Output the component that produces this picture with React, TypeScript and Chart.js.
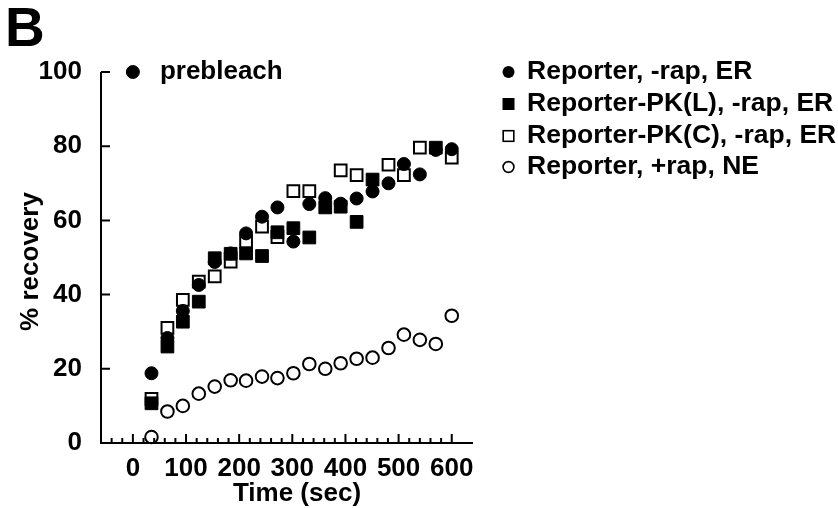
import React, { useEffect, useRef } from "react";
import { Chart, registerables } from "chart.js";

Chart.register(...registerables);

// ---- data ----
const TIMES = [35, 65, 94, 124, 154, 184, 213, 243, 272, 302, 332, 362, 391, 421, 451, 481, 510, 540, 570, 600];

const REPORTER_ER = [18.8, 28.3, 35.6, 42.6, 48.8, 51.1, 56.5, 61.0, 63.5, 54.3, 64.4, 66.0, 64.5, 65.9, 67.8, 70.0, 75.2, 72.4, 79.0, 79.2];
const PKL_ER = [10.7, 26.0, 32.7, 38.1, 49.8, 51.0, 51.1, 50.4, 56.8, 57.9, 55.4, 63.5, 63.7, 59.6, 71.0, null, null, null, 79.6, null];
const PKC_ER = [11.9, 31.0, 38.6, 43.5, 44.9, 48.9, 54.3, 58.3, 55.5, 67.9, 67.9, null, 73.5, 72.2, null, 75.0, 72.2, 79.6, null, 76.9];
const REPORTER_NE = [1.6, 8.5, 10.0, 13.3, 15.2, 16.9, 16.8, 17.9, 17.5, 18.8, 21.3, 20.0, 21.5, 22.7, 23.0, 25.6, 29.2, 27.8, 26.7, 34.3];

const PREBLEACH_TIME = [0];
const PREBLEACH_VALUE = [100];

const LEGEND_LABELS = [
  "Reporter, -rap, ER",
  "Reporter-PK(L), -rap, ER",
  "Reporter-PK(C), -rap, ER",
  "Reporter, +rap, NE",
];

const X_MIN = -60;
const X_MAX = 640;
const X_LABEL_TICKS = [0, 100, 200, 300, 400, 500, 600];
const X_MINOR_STEP = 20;
const Y_TICKS = [0, 20, 40, 60, 80, 100];

const FONT = "'Liberation Sans', Arial, Helvetica, sans-serif";

const toPoints = (xs: number[], ys: (number | null)[]) =>
  xs
    .map((x, i) => ({ x, y: ys[i] }))
    .filter((p) => p.y !== null) as { x: number; y: number }[];

const decorPlugin = {
  id: "decor",
  beforeDatasetsDraw(chart: any) {
    const { ctx } = chart;
    const xs = chart.scales.x;
    const ys = chart.scales.y;
    const left = xs.getPixelForValue(X_MIN);
    const right = xs.getPixelForValue(X_MAX);
    const bottom = ys.getPixelForValue(0);
    const top = ys.getPixelForValue(100);
    ctx.save();
    ctx.strokeStyle = "#000";
    ctx.lineWidth = 2;
    ctx.lineCap = "butt";
    ctx.lineJoin = "miter";
    ctx.beginPath();
    ctx.moveTo(left, top);
    ctx.lineTo(left, bottom);
    ctx.lineTo(right, bottom);
    ctx.stroke();
    // y ticks (inward)
    ctx.beginPath();
    Y_TICKS.forEach((v) => {
      if (v === 0) return;
      const y = ys.getPixelForValue(v);
      ctx.moveTo(left, y);
      ctx.lineTo(left + 9, y);
    });
    ctx.stroke();
    // x ticks (inward), minor every 20
    ctx.beginPath();
    for (let v = X_MIN + X_MINOR_STEP; v <= 600; v += X_MINOR_STEP) {
      const x = xs.getPixelForValue(v);
      const len = v % 100 === 0 ? 9 : 5;
      ctx.moveTo(x, bottom);
      ctx.lineTo(x, bottom - len);
    }
    ctx.stroke();
    ctx.restore();
  },
  afterDraw(chart: any) {
    const { ctx } = chart;
    const xs = chart.scales.x;
    const ys = chart.scales.y;
    ctx.save();
    ctx.fillStyle = "#000";
    // panel letter
    ctx.font = `bold 55px ${FONT}`;
    ctx.textAlign = "left";
    ctx.textBaseline = "alphabetic";
    ctx.fillText("B", 5, 46);
    // prebleach label
    ctx.font = `bold 26px ${FONT}`;
    ctx.textBaseline = "middle";
    ctx.fillText("prebleach", xs.getPixelForValue(PREBLEACH_TIME[0]) + 27, ys.getPixelForValue(PREBLEACH_VALUE[0]));
    // axis titles
    ctx.textAlign = "center";
    ctx.fillText("Time (sec)", (chart.chartArea.left + chart.chartArea.right) / 2 + 10, 494);
    ctx.save();
    ctx.translate(31, (chart.chartArea.top + chart.chartArea.bottom) / 2 + 4);
    ctx.rotate(-Math.PI / 2);
    ctx.fillText("% recovery", 0, 0);
    ctx.restore();
    // legend
    const rows = [72, 104, 136, 167];
    const mx = 508.5;
    const tx = 527;
    ctx.textAlign = "left";
    ctx.font = `bold 26.5px ${FONT}`;
    LEGEND_LABELS.forEach((label, i) => {
      const y = rows[i];
      ctx.fillStyle = "#000";
      ctx.strokeStyle = "#000";
      if (i === 0) {
        ctx.beginPath();
        ctx.arc(mx, y, 6, 0, Math.PI * 2);
        ctx.fill();
      } else if (i === 1) {
        ctx.fillRect(mx - 6, y - 6, 12, 12);
      } else if (i === 2) {
        ctx.lineWidth = 1.6;
        ctx.strokeRect(mx - 5.3, y - 5.3, 10.6, 10.6);
      } else {
        ctx.lineWidth = 1.6;
        ctx.beginPath();
        ctx.arc(mx, y, 5.4, 0, Math.PI * 2);
        ctx.stroke();
      }
      ctx.fillText(label, tx, y);
    });
    ctx.restore();
  },
};

export default function App() {
  const ref = useRef<HTMLCanvasElement | null>(null);

  useEffect(() => {
    if (!ref.current) return;
    const tickFont = { family: FONT, weight: "bold" as const, size: 26 };
    const chart = new Chart(ref.current, {
      type: "scatter",
      data: {
        datasets: [
          {
            label: "prebleach",
            data: toPoints(PREBLEACH_TIME, PREBLEACH_VALUE),
            pointStyle: "circle",
            pointRadius: 6.5,
            backgroundColor: "#000",
            borderColor: "#000",
            borderWidth: 1,
            clip: false as any,
          },
          {
            label: LEGEND_LABELS[2],
            data: toPoints(TIMES, PKC_ER),
            pointStyle: "rect",
            pointRadius: 8.3,
            backgroundColor: "rgba(0,0,0,0)",
            borderColor: "#000",
            borderWidth: 2,
            clip: false as any,
          },
          {
            label: LEGEND_LABELS[0],
            data: toPoints(TIMES, REPORTER_ER),
            pointStyle: "circle",
            pointRadius: 6.5,
            backgroundColor: "#000",
            borderColor: "#000",
            borderWidth: 1,
            clip: false as any,
          },
          {
            label: LEGEND_LABELS[1],
            data: toPoints(TIMES, PKL_ER),
            pointStyle: "rect",
            pointRadius: 9,
            backgroundColor: "#000",
            borderColor: "#000",
            borderWidth: 1,
            clip: false as any,
          },
          {
            label: LEGEND_LABELS[3],
            data: toPoints(TIMES, REPORTER_NE),
            pointStyle: "circle",
            pointRadius: 6.3,
            backgroundColor: "rgba(255,255,255,0)",
            borderColor: "#000",
            borderWidth: 2,
            clip: false as any,
          },
        ],
      },
      options: {
        animation: false,
        responsive: false,
        events: [],
        layout: { padding: { top: 72, right: 365, bottom: 0, left: 0 } },
        plugins: {
          legend: { display: false },
          tooltip: { enabled: false },
        },
        scales: {
          x: {
            type: "linear",
            min: X_MIN,
            max: X_MAX,
            grid: { display: false },
            border: { display: false },
            afterBuildTicks: (scale: any) => {
              scale.ticks = X_LABEL_TICKS.map((v) => ({ value: v }));
            },
            afterFit: (scale: any) => {
              scale.height = 65;
            },
            ticks: {
              color: "#000",
              font: tickFont,
              padding: 2,
              maxRotation: 0,
              autoSkip: false,
            },
          },
          y: {
            type: "linear",
            min: 0,
            max: 100,
            grid: { display: false },
            border: { display: false },
            afterBuildTicks: (scale: any) => {
              scale.ticks = Y_TICKS.map((v) => ({ value: v }));
            },
            afterFit: (scale: any) => {
              scale.width = 101;
            },
            ticks: {
              color: "#000",
              font: tickFont,
              padding: 11,
            },
          },
        },
      },
      plugins: [decorPlugin],
    });
    return () => chart.destroy();
  }, []);

  return (
    <div style={{ position: "absolute", left: 0, top: 0, width: 838, height: 508, background: "#fff" }}>
      <canvas ref={ref} width={838} height={508} style={{ display: "block" }} />
    </div>
  );
}
